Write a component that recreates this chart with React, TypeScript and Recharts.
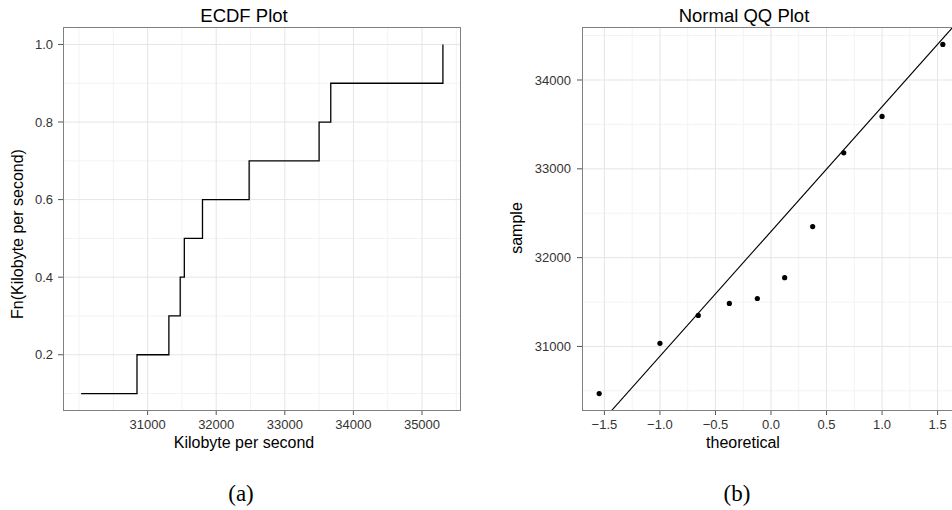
import React from "react";
import {
  LineChart,
  Line,
  ScatterChart,
  Scatter,
  XAxis,
  YAxis,
  CartesianGrid,
  ReferenceLine,
} from "recharts";

// ECDF panel
const ecdfValues = [30030, 30845, 31310, 31475, 31535, 31800, 32480, 33500, 33670, 35305];
const ecdfProb = [0.1, 0.2, 0.3, 0.4, 0.5, 0.6, 0.7, 0.8, 0.9, 1.0];
const ecdfXTicks = [31000, 32000, 33000, 34000, 35000];
const ecdfYTicks = [0.2, 0.4, 0.6, 0.8, 1.0];
const ecdfXMinor = [30000, 30500, 31500, 32500, 33500, 34500, 35500];
const ecdfYMinor = [0.1, 0.3, 0.5, 0.7, 0.9];

// QQ panel
const qqTheoretical = [-1.547, -1.0, -0.655, -0.375, -0.123, 0.123, 0.375, 0.655, 1.0, 1.547];
const qqSample = [30470, 31035, 31350, 31485, 31540, 31775, 32350, 33180, 33590, 34400];
const qqXTicks = [-1.5, -1, -0.5, 0, 0.5, 1, 1.5];
const qqYTicks = [31000, 32000, 33000, 34000];
const qqXMinor = [-1.25, -0.75, -0.25, 0.25, 0.75, 1.25];
const qqYMinor = [30500, 31500, 32500, 33500, 34500];
const qqLineIntercept = 32295;
const qqLineSlope = 1405;

// ggplot-style 5% expansion
const expand = (v: number[]): [number, number] => {
  const lo = Math.min(...v);
  const hi = Math.max(...v);
  const pad = (hi - lo) * 0.05;
  return [lo - pad, hi + pad];
};

const ecdfData = ecdfValues.map((x, i) => ({ x, y: ecdfProb[i] }));
const qqData = qqTheoretical.map((x, i) => ({ x, y: qqSample[i] }));

const ecdfXDomain = expand(ecdfValues);
const ecdfYDomain = expand(ecdfProb);
const qqXDomain = expand(qqTheoretical);
const qqYDomain = expand(qqSample);

const SANS = "'Liberation Sans', Arial, sans-serif";
const tickStyle = { fontSize: 13, fill: "#333", fontFamily: SANS };
const tickLine = { stroke: "#555" };
const MAJOR = "#e5e5e5";
const MINOR = "#f3f3f3";

const fmtMinus = (v: number) => (v < 0 ? "\u2212" : "") + Math.abs(v).toFixed(1);

export default function App() {
  return (
    <div
      style={{
        position: "absolute",
        left: 0,
        top: 0,
        width: 952,
        height: 510,
        overflow: "hidden",
        background: "#fff",
      }}
    >
      <div style={{ position: "absolute", left: 0, top: 0 }}>
        <LineChart
          width={480}
          height={440}
          data={ecdfData}
          margin={{ top: 27, right: 19, bottom: 0, left: 0 }}
        >
          <CartesianGrid stroke={MINOR} verticalValues={ecdfXMinor} horizontalValues={ecdfYMinor} />
          <CartesianGrid stroke={MAJOR} verticalValues={ecdfXTicks} horizontalValues={ecdfYTicks} />
          <XAxis
            type="number"
            dataKey="x"
            domain={ecdfXDomain}
            ticks={ecdfXTicks}
            interval={0}
            allowDataOverflow
            axisLine={false}
            tickLine={tickLine}
            tickSize={4}
            tickMargin={5}
            height={29}
            tick={tickStyle}
          />
          <YAxis
            type="number"
            domain={ecdfYDomain}
            ticks={ecdfYTicks}
            interval={0}
            allowDataOverflow
            axisLine={false}
            tickLine={tickLine}
            tickSize={5}
            tickMargin={5}
            width={63}
            tick={tickStyle}
            tickFormatter={(v: number) => v.toFixed(1)}
          />
          <Line
            type="stepAfter"
            dataKey="y"
            stroke="#000"
            strokeWidth={1.3}
            dot={false}
            isAnimationActive={false}
          />
        </LineChart>
      </div>

      <div style={{ position: "absolute", left: 482, top: 0 }}>
        <ScatterChart width={480} height={440} margin={{ top: 27, right: 2, bottom: 0, left: 0 }}>
          <CartesianGrid stroke={MINOR} verticalValues={qqXMinor} horizontalValues={qqYMinor} />
          <CartesianGrid stroke={MAJOR} verticalValues={qqXTicks} horizontalValues={qqYTicks} />
          <XAxis
            type="number"
            dataKey="x"
            domain={qqXDomain}
            ticks={qqXTicks}
            interval={0}
            allowDataOverflow
            axisLine={false}
            tickLine={tickLine}
            tickSize={4}
            tickMargin={5}
            height={29}
            tick={tickStyle}
            tickFormatter={fmtMinus}
          />
          <YAxis
            type="number"
            dataKey="y"
            domain={qqYDomain}
            ticks={qqYTicks}
            interval={0}
            allowDataOverflow
            axisLine={false}
            tickLine={tickLine}
            tickSize={5}
            tickMargin={6}
            width={100}
            tick={tickStyle}
          />
          <ReferenceLine
            segment={[
              { x: qqXDomain[0], y: qqLineIntercept + qqLineSlope * qqXDomain[0] },
              { x: qqXDomain[1], y: qqLineIntercept + qqLineSlope * qqXDomain[1] },
            ]}
            stroke="#000"
            strokeWidth={1.1}
            ifOverflow="hidden"
          />
          <Scatter
            data={qqData}
            dataKey="y"
            fill="#000"
            isAnimationActive={false}
            shape={(p: any) => <circle cx={p.cx} cy={p.cy} r={2.6} fill="#000" />}
          />
        </ScatterChart>
      </div>

      {/* panel borders */}
      <div
        style={{
          position: "absolute",
          left: 63,
          top: 27,
          width: 398,
          height: 384,
          border: "1px solid #808080",
          boxSizing: "border-box",
        }}
      />
      <div
        style={{
          position: "absolute",
          left: 582,
          top: 27,
          width: 378,
          height: 384,
          border: "1px solid #808080",
          boxSizing: "border-box",
        }}
      />

      <svg
        width={952}
        height={510}
        style={{ position: "absolute", left: 0, top: 0, pointerEvents: "none" }}
      >
        <g fontFamily={SANS} fill="#000" textAnchor="middle">
          <text x={244} y={22} fontSize={18.5}>ECDF Plot</text>
          <text x={744} y={22} fontSize={18.5}>Normal QQ Plot</text>
          <text x={244} y={448} fontSize={16}>Kilobyte per second</text>
          <text x={743} y={448} fontSize={16}>theoretical</text>
          <text x={23} y={234} fontSize={16} transform="rotate(-90 23 234)">
            Fn(Kilobyte per second)
          </text>
          <text x={522} y={228} fontSize={16} transform="rotate(-90 522 228)">
            sample
          </text>
        </g>
        <g fontFamily="'Liberation Serif', 'Times New Roman', serif" fill="#000" textAnchor="middle">
          <text x={241} y={501} fontSize={23}>(a)</text>
          <text x={737} y={501} fontSize={23}>(b)</text>
        </g>
      </svg>
    </div>
  );
}
